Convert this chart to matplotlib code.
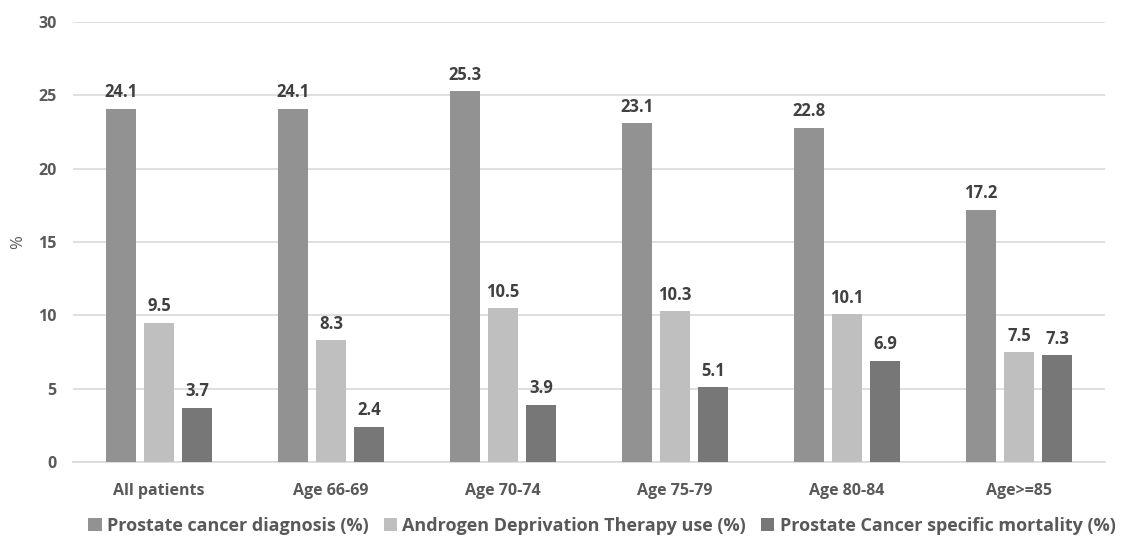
import numpy as np
import matplotlib.pyplot as plt

categories = ['All patients', 'Age 66-69', 'Age 70-74', 'Age 75-79', 'Age 80-84', 'Age>=85']
diagnosis = [24.1, 24.1, 25.3, 23.1, 22.8, 17.2]
adt_use = [9.5, 8.3, 10.5, 10.3, 10.1, 7.5]
mortality = [3.7, 2.4, 3.9, 5.1, 6.9, 7.3]
series_names = ['Prostate cancer diagnosis (%)',
                'Androgen Deprivation Therapy use (%)',
                'Prostate Cancer specific mortality (%)']
colors = ['#929292', '#bfbfbf', '#777777']

plt.rcParams['font.family'] = ['Open Sans', 'DejaVu Sans']

fig = plt.figure(figsize=(11.23, 5.39), dpi=100)
ax = fig.add_axes([0.065, 0.143, 0.919, 0.816])

x = np.arange(len(categories))
w = 0.176
step = 0.222
for i, (vals, name, c) in enumerate(zip([diagnosis, adt_use, mortality], series_names, colors)):
    bars = ax.bar(x + (i - 1) * step, vals, width=w, color=c, label=name, zorder=3)
    for b, v in zip(bars, vals):
        ax.text(b.get_x() + b.get_width() / 2, v + 0.5, '{:.1f}'.format(v),
                ha='center', va='bottom', fontsize=12, fontweight='bold', color='#404040')

ax.set_xlim(-0.5, len(categories) - 0.5)
ax.set_ylim(0, 30)
ax.set_yticks(range(0, 31, 5))
ax.yaxis.grid(True, color='#d9d9d9', linewidth=1.2, zorder=0)
for s in ['top', 'right', 'left']:
    ax.spines[s].set_visible(False)
ax.spines['bottom'].set_color('#d9d9d9')
ax.spines['bottom'].set_linewidth(1.2)
ax.tick_params(length=0, labelsize=11.5, labelcolor='#595959')
ax.tick_params(axis='x', pad=15)
ax.tick_params(axis='y', pad=12)
ax.set_xticks(x)
ax.set_xticklabels(categories)
for lab in ax.get_xticklabels() + ax.get_yticklabels():
    lab.set_fontweight('bold')

# y label placed in figure coords so it does not get clipped
fig.text(18 / 1123, 1 - 242 / 539, '%', rotation=90, ha='center', va='center',
         fontsize=12, color='#595959')

fig.legend(loc='lower center', bbox_to_anchor=(0.536, -0.022), ncol=3, frameon=False,
           prop={'size': 13, 'weight': 'bold'}, labelcolor='#595959',
           handlelength=0.75, handleheight=0.75, handletextpad=0.3, columnspacing=0.8)

fig.savefig('out.png', dpi=100)
